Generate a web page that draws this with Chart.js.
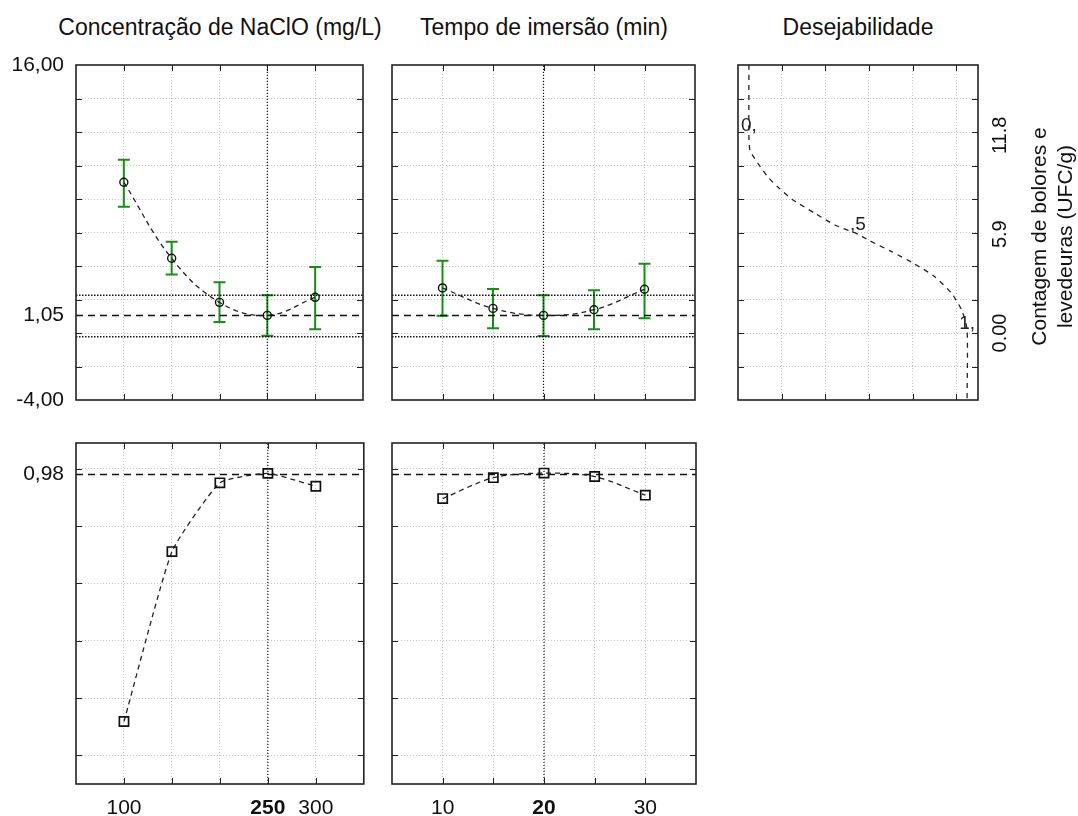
<!DOCTYPE html>
<html>
<head>
<meta charset="utf-8">
<script src="https://cdn.jsdelivr.net/npm/chart.js@4/dist/chart.umd.min.js"></script>
<style>
  body { margin: 0; background: #fff; }
  #wrap { position: relative; width: 1078px; height: 816px; overflow: hidden; font-family: "Liberation Sans", Arial, sans-serif; }
  canvas { position: absolute; }
  .ttl { position: absolute; top: 13px; height: 28px; line-height: 28px; font-size: 23px; color: #111; white-space: nowrap; transform: translateX(-50%); }
</style>
</head>
<body>
<div id="wrap">
  <div class="ttl" style="left:220px">Concentração de NaClO (mg/L)</div>
  <div class="ttl" style="left:544px">Tempo de imersão (min)</div>
  <div class="ttl" style="left:858px">Desejabilidade</div>
  <canvas id="c1" width="372" height="420" style="left:0;top:0"></canvas>
  <canvas id="c2" width="330" height="420" style="left:380px;top:0"></canvas>
  <canvas id="c3" width="358" height="420" style="left:720px;top:0"></canvas>
  <canvas id="c4" width="372" height="396" style="left:0;top:420px"></canvas>
  <canvas id="c5" width="330" height="396" style="left:380px;top:420px"></canvas>
</div>
<script>
const FONT = '"Liberation Sans", Arial, sans-serif';

// concentração de NaClO
const concLevels = [100, 150, 200, 250, 300];
const concMean = [9.0, 4.46, 1.83, 1.05, 2.13];
const concLow = [7.54, 3.5, 0.66, -0.16, 0.22];
const concHigh = [10.35, 5.45, 3.03, 2.25, 3.94];
const concDesir = [0.118, 0.711, 0.951, 0.984, 0.939];
const concOpt = 250;

// tempo de imersão
const timeLevels = [10, 15, 20, 25, 30];
const timeMean = [2.69, 1.47, 1.05, 1.39, 2.61];
const timeLow = [1.03, 0.28, -0.18, 0.22, 0.88];
const timeHigh = [4.32, 2.63, 2.25, 2.55, 4.14];
const timeDesir = [0.896, 0.969, 0.985, 0.973, 0.908];
const timeOpt = 20;

// função de desejabilidade (d vs contagem)
const desirD = [0, 0, 0.005, 0.043, 0.088, 0.134, 0.196, 0.302, 0.394, 0.5, 0.547, 0.654, 0.76, 0.852, 0.929, 0.975, 1.0, 1.0];
const desirCount = [16, 11.8, 10.9, 10.1, 9.3, 8.7, 8.0, 7.15, 6.45, 5.9, 5.55, 4.86, 4.12, 3.36, 2.37, 1.37, 0.2, -4];
const markD = [0, 0.5, 1];
const markCount = [11.8, 5.9, 0];
const markText = ['0,', ',5', '1,'];

// valores previstos no ótimo
const countOpt = 1.05;
const countCiLow = -0.22;
const countCiHigh = 2.25;
const desirOpt = 0.98;

// eixos
const countRange = [-4, 16];
const countGrid = [-2, 0, 2, 4, 6, 8, 10, 12, 14];
const countLabelled = [-4, 1.05, 16];
const desirRange = [-0.1, 1.09];
const desirGrid = [0, 0.2, 0.4, 0.6, 0.8, 1.0];
const desirLabelled = [0.98];
const concRange = [50, 350];
const concGrid = [100, 150, 200, 250, 300];
const concLabelled = [100, 250, 300];
const timeRange = [5, 35];
const timeGrid = [10, 15, 20, 25, 30];
const timeLabelled = [10, 20, 30];
const dRange = [-0.05, 1.05];
const dGrid = [0.15, 0.35, 0.55, 0.75, 0.95];
const rightTicks = [0, 5.9, 11.8];
const rightLabels = ['0.00', '5.9', '11.8'];
const rightTitle = ['Contagem de bolores e', 'levedeuras (UFC/g)'];

const comma = v => v.toFixed(2).replace('.', ',');

function axis(range, grid, labelled, o) {
  const all = [...new Set([range[0], ...grid, ...labelled, range[1]])].sort((a, b) => a - b);
  return {
    type: 'linear', min: range[0], max: range[1], position: o.pos,
    afterBuildTicks: s => { s.ticks = all.map(v => ({ value: v })); },
    afterFit: s => {
      if (s.isHorizontal()) s.height = o.size; else s.width = o.size;
      s.paddingTop = s.paddingBottom = s.paddingLeft = s.paddingRight = 0;
    },
    grid: { color: c => grid.includes(c.tick.value) ? '#c4c4c4' : 'rgba(0,0,0,0)', drawTicks: false, lineWidth: 1 },
    border: { display: false, dash: [1, 2] },
    ticks: {
      display: !!o.fmt, autoSkip: false, padding: o.pad || 0, color: '#111', maxRotation: 0,
      font: c => ({ family: FONT, size: 21, weight: c.tick && c.tick.value === o.bold ? 'bold' : 'normal' }),
      callback: v => labelled.includes(v) ? o.fmt(v) : ''
    }
  };
}

function frame(xGrid, yGrid) {
  return {
    id: 'frame',
    afterDraw(chart) {
      const { ctx, chartArea: a, scales } = chart;
      ctx.save();
      ctx.strokeStyle = '#222';
      ctx.lineWidth = 1;
      ctx.beginPath();
      xGrid.forEach(v => {
        const p = Math.round(scales.x.getPixelForValue(v)) + 0.5;
        ctx.moveTo(p, a.top); ctx.lineTo(p, a.top + 6);
        ctx.moveTo(p, a.bottom); ctx.lineTo(p, a.bottom - 6);
      });
      yGrid.forEach(v => {
        const p = Math.round(scales.y.getPixelForValue(v)) + 0.5;
        ctx.moveTo(a.left, p); ctx.lineTo(a.left + 6, p);
        ctx.moveTo(a.right, p); ctx.lineTo(a.right - 6, p);
      });
      ctx.stroke();
      ctx.lineWidth = 1.6;
      ctx.strokeRect(a.left, a.top, a.right - a.left, a.bottom - a.top);
      ctx.restore();
    }
  };
}

function errorBars(xs, lows, highs) {
  return {
    id: 'errorBars',
    beforeDatasetsDraw(chart) {
      const { ctx, scales: { x, y } } = chart;
      ctx.save();
      ctx.strokeStyle = '#178f17';
      ctx.lineWidth = 2;
      xs.forEach((v, i) => {
        const px = x.getPixelForValue(v);
        const t = y.getPixelForValue(highs[i]);
        const b = y.getPixelForValue(lows[i]);
        ctx.beginPath();
        ctx.moveTo(px, t); ctx.lineTo(px, b);
        ctx.moveTo(px - 6, t); ctx.lineTo(px + 6, t);
        ctx.moveTo(px - 6, b); ctx.lineTo(px + 6, b);
        ctx.stroke();
      });
      ctx.restore();
    }
  };
}

const pts = (xs, ys) => xs.map((x, i) => ({ x, y: ys[i] }));
const hLine = (range, y, dash, w) => ({ data: [{ x: range[0], y }, { x: range[1], y }], showLine: true, borderColor: '#111', borderWidth: w, borderDash: dash, pointRadius: 0 });
const vLine = (x, range) => ({ data: [{ x, y: range[0] }, { x, y: range[1] }], showLine: true, borderColor: '#111', borderWidth: 1.2, borderDash: [1, 2], pointRadius: 0 });

function profile(levels, values, style, tension) {
  return {
    data: pts(levels, values), showLine: true, tension,
    borderColor: '#222', borderWidth: 1.3, borderDash: [5, 4],
    pointStyle: style, pointRadius: style === 'rect' ? 6.5 : 4, pointBorderWidth: style === 'rect' ? 1.7 : 1.4,
    pointBorderColor: '#111', pointBackgroundColor: 'rgba(255,255,255,0)'
  };
}

function base(padding, scales) {
  return {
    responsive: false, animation: false, events: [],
    layout: { padding },
    plugins: { legend: { display: false }, tooltip: { enabled: false } },
    scales
  };
}

// topo: contagem vs concentração
new Chart(document.getElementById('c1'), {
  type: 'scatter',
  data: { datasets: [
    profile(concLevels, concMean, 'circle', 0.4),
    hLine(concRange, countOpt, [7, 5], 1.5),
    hLine(concRange, countCiHigh, [1.5, 1.5], 1.5),
    hLine(concRange, countCiLow, [1.5, 1.5], 1.5),
    vLine(concOpt, countRange)
  ] },
  options: base({ top: 65, right: 9 }, {
    x: axis(concRange, concGrid, [], { pos: 'bottom', size: 20 }),
    y: axis(countRange, countGrid, countLabelled, { pos: 'left', size: 76, pad: 12, fmt: comma })
  }),
  plugins: [errorBars(concLevels, concLow, concHigh), frame(concGrid, countGrid)]
});

// topo: contagem vs tempo
new Chart(document.getElementById('c2'), {
  type: 'scatter',
  data: { datasets: [
    profile(timeLevels, timeMean, 'circle', 0.4),
    hLine(timeRange, countOpt, [7, 5], 1.5),
    hLine(timeRange, countCiHigh, [1.5, 1.5], 1.5),
    hLine(timeRange, countCiLow, [1.5, 1.5], 1.5),
    vLine(timeOpt, countRange)
  ] },
  options: base({ top: 65, right: 15 }, {
    x: axis(timeRange, timeGrid, [], { pos: 'bottom', size: 20 }),
    y: axis(countRange, countGrid, [], { pos: 'left', size: 12 })
  }),
  plugins: [errorBars(timeLevels, timeLow, timeHigh), frame(timeGrid, countGrid)]
});

// topo: função de desejabilidade
const desirLabels = {
  id: 'desirLabels',
  afterDraw(chart) {
    const { ctx, chartArea: a, scales: { x, y } } = chart;
    ctx.save();
    ctx.fillStyle = '#222';
    ctx.font = '19px ' + FONT;
    ctx.textAlign = 'center';
    ctx.textBaseline = 'alphabetic';
    markD.forEach((d, i) => ctx.fillText(markText[i], x.getPixelForValue(d), y.getPixelForValue(markCount[i]) - 4));
    ctx.fillStyle = '#111';
    ctx.font = '20px ' + FONT;
    ctx.textBaseline = 'middle';
    rightTicks.forEach((v, i) => {
      ctx.save();
      ctx.translate(a.right + 22, y.getPixelForValue(v));
      ctx.rotate(-Math.PI / 2);
      ctx.fillText(rightLabels[i], 0, 0);
      ctx.restore();
    });
    ctx.font = '21px ' + FONT;
    rightTitle.forEach((t, i) => {
      ctx.save();
      ctx.translate(a.right + 62 + i * 26, (a.top + a.bottom) / 2 + 4);
      ctx.rotate(-Math.PI / 2);
      ctx.fillText(t, 0, 0);
      ctx.restore();
    });
    ctx.restore();
  }
};

new Chart(document.getElementById('c3'), {
  type: 'scatter',
  data: { datasets: [{
    data: pts(desirD, desirCount), showLine: true, tension: 0.2,
    borderColor: '#222', borderWidth: 1.3, borderDash: [5, 5], pointRadius: 0
  }] },
  options: base({ top: 65, left: 18 }, {
    x: axis(dRange, dGrid, [], { pos: 'bottom', size: 20 }),
    y: axis(countRange, countGrid, [], { pos: 'right', size: 100 })
  }),
  plugins: [frame(dGrid, countGrid), desirLabels]
});

// baixo: desejabilidade vs concentração
new Chart(document.getElementById('c4'), {
  type: 'scatter',
  data: { datasets: [
    profile(concLevels, concDesir, 'rect', 0.15),
    hLine(concRange, desirOpt, [7, 5], 1.5),
    vLine(concOpt, desirRange)
  ] },
  options: base({ top: 23, right: 8 }, {
    x: axis(concRange, concGrid, concLabelled, { pos: 'bottom', size: 32, pad: 12, bold: concOpt, fmt: v => String(v) }),
    y: axis(desirRange, desirGrid, desirLabelled, { pos: 'left', size: 76, pad: 12, fmt: comma })
  }),
  plugins: [frame(concGrid, desirGrid)]
});

// baixo: desejabilidade vs tempo
new Chart(document.getElementById('c5'), {
  type: 'scatter',
  data: { datasets: [
    profile(timeLevels, timeDesir, 'rect', 0.3),
    hLine(timeRange, desirOpt, [7, 5], 1.5),
    vLine(timeOpt, desirRange)
  ] },
  options: base({ top: 23, right: 14 }, {
    x: axis(timeRange, timeGrid, timeLabelled, { pos: 'bottom', size: 32, pad: 12, bold: timeOpt, fmt: v => String(v) }),
    y: axis(desirRange, desirGrid, [], { pos: 'left', size: 12 })
  }),
  plugins: [frame(timeGrid, desirGrid)]
});
</script>
</body>
</html>
